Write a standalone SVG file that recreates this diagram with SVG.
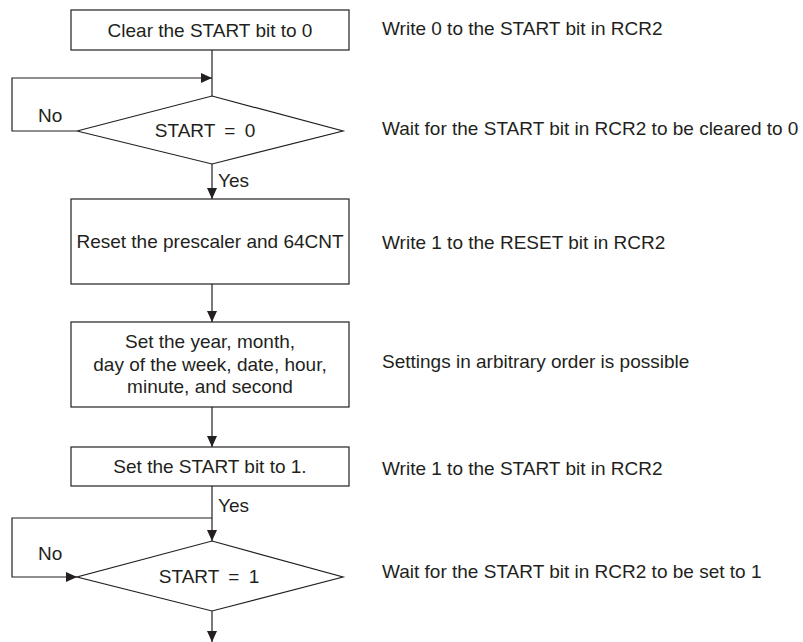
<svg xmlns="http://www.w3.org/2000/svg" width="803" height="642" viewBox="0 0 803 642">
<defs>
<style>
.t{font-family:"Liberation Sans",Arial,sans-serif;font-size:19px;fill:#231f20}
.m{text-anchor:middle}
.s{fill:#fff;stroke:#231f20;stroke-width:1.2}
.c{fill:none;stroke:#231f20;stroke-width:1.2}
</style>
<marker id="ah" markerUnits="userSpaceOnUse" markerWidth="12" markerHeight="12" viewBox="0 0 12 12" refX="11" refY="6" orient="auto">
<path d="M0,1 L11,6 L0,11 Z" fill="#231f20"/>
</marker>
</defs>
<rect width="803" height="642" fill="#fff"/>
<g id="connectors">
<path class="c" d="M212,50 V96"/>
<path class="c" d="M77,131 H12 V78 H212" marker-end="url(#ah)"/>
<path class="c" d="M212,164 V199" marker-end="url(#ah)"/>
<path class="c" d="M212,284 V322" marker-end="url(#ah)"/>
<path class="c" d="M212,407 V447" marker-end="url(#ah)"/>
<path class="c" d="M212,486 V541" marker-end="url(#ah)"/>
<path class="c" d="M212,518 H12 V577 H77" marker-end="url(#ah)"/>
<path class="c" d="M212,611 V642" marker-end="url(#ah)"/>
<text class="t" x="38" y="122">No</text>
<text class="t" x="218" y="187">Yes</text>
<text class="t" x="218" y="512">Yes</text>
<text class="t" x="38" y="560">No</text>
</g>
<g id="n1">
<rect class="s" x="71" y="10" width="278" height="40"/>
<text class="t m" x="210" y="37">Clear the START bit to 0</text>
</g>
<g id="n2">
<polygon class="s" points="212,96 343,131 212,164 77,131"/>
<text class="t m" x="205" y="137" word-spacing="4">START = 0</text>
</g>
<g id="n3">
<rect class="s" x="71" y="199" width="278" height="85"/>
<text class="t m" x="210" y="248">Reset the prescaler and 64CNT</text>
</g>
<g id="n4">
<rect class="s" x="71" y="322" width="278" height="85"/>
<text class="t m" x="210" y="348">Set the year, month,</text>
<text class="t m" x="210" y="371">day of the week, date, hour,</text>
<text class="t m" x="210" y="393">minute, and second</text>
</g>
<g id="n5">
<rect class="s" x="71" y="447" width="278" height="39"/>
<text class="t m" x="210" y="473">Set the START bit to 1.</text>
</g>
<g id="n6">
<polygon class="s" points="212,541 343,577 212,611 77,577"/>
<text class="t m" x="209" y="583" word-spacing="4">START = 1</text>
</g>
<g id="notes">
<text class="t" x="382" y="35">Write 0 to the START bit in RCR2</text>
<text class="t" x="382" y="135">Wait for the START bit in RCR2 to be cleared to 0</text>
<text class="t" x="382" y="249">Write 1 to the RESET bit in RCR2</text>
<text class="t" x="382" y="368">Settings in arbitrary order is possible</text>
<text class="t" x="382" y="475">Write 1 to the START bit in RCR2</text>
<text class="t" x="382" y="578">Wait for the START bit in RCR2 to be set to 1</text>
</g>
</svg>
